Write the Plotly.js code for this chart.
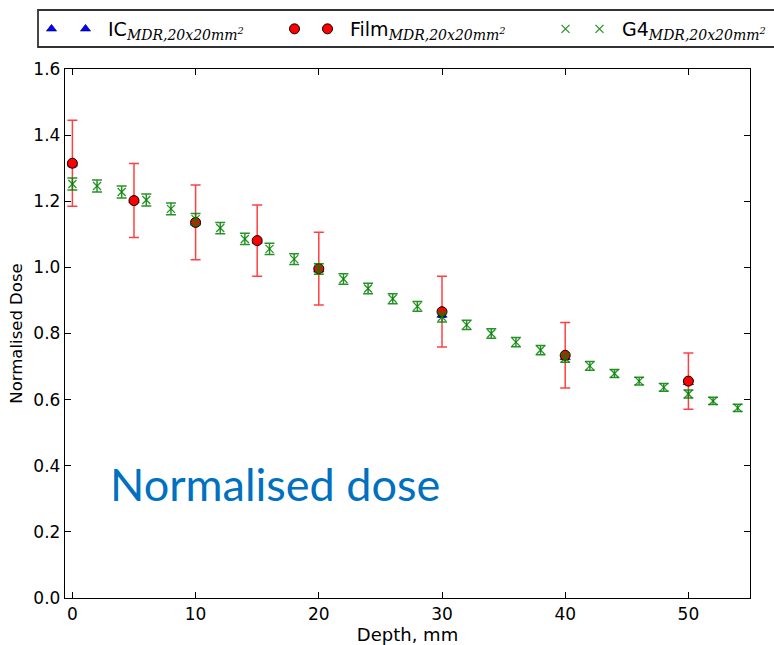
<!DOCTYPE html>
<html>
<head>
<meta charset="utf-8">
<script src="https://cdn.plot.ly/plotly-3.0.1.min.js"></script>
<style>html,body{margin:0;padding:0;background:#fff;}#chart{width:774px;height:645px;}</style>
</head>
<body>
<div id="chart"></div>
<script>
// Measured depths (mm)
const icDepth = [0, 5, 10, 15, 20, 30, 40, 50];
const icDose = [1.313, 1.203, 1.135, 1.080, 0.993, 0.856, 0.728, 0.652];
const icErr = [0.010, 0.009, 0.009, 0.008, 0.008, 0.007, 0.006, 0.005];

const filmDepth = [0, 5, 10, 15, 20, 30, 40, 50];
const filmDose = [1.315, 1.202, 1.136, 1.081, 0.996, 0.866, 0.734, 0.656];
const filmErr = [0.130, 0.112, 0.113, 0.108, 0.110, 0.107, 0.099, 0.085];

const g4Depth = [0, 2, 4, 6, 8, 10, 12, 14, 16, 18, 20, 22, 24, 26, 28, 30, 32, 34, 36, 38, 40, 42, 44, 46, 48, 50, 52, 54];
const g4Dose = [1.252, 1.246, 1.228, 1.204, 1.177, 1.146, 1.119, 1.086, 1.056, 1.025, 0.995, 0.965, 0.936, 0.905, 0.882, 0.850, 0.826, 0.800, 0.774, 0.750, 0.726, 0.702, 0.679, 0.656, 0.637, 0.617, 0.596, 0.575];
const g4Err = [0.018, 0.018, 0.018, 0.018, 0.018, 0.017, 0.017, 0.017, 0.017, 0.016, 0.016, 0.016, 0.016, 0.015, 0.015, 0.015, 0.014, 0.014, 0.014, 0.014, 0.013, 0.013, 0.012, 0.012, 0.012, 0.012, 0.011, 0.011];

const xTicks = [0, 10, 20, 30, 40, 50];
const yTicks = [0.0, 0.2, 0.4, 0.6, 0.8, 1.0, 1.2, 1.4, 1.6];

const sub = '<sub><span style="font-family:DejaVu Serif;font-style:italic;font-size:14px">MDR,20x20mm<sup>2</sup></span></sub>';

const icMarker = {symbol: 'triangle-up', color: '#0000ff', size: 9, line: {color: '#000033', width: 0.5}};
const filmMarker = {symbol: 'circle', color: '#ff0000', size: 10, line: {color: '#000000', width: 1}};
const g4Marker = {symbol: 'x-thin', color: '#008000', size: 8, line: {color: 'rgba(0,128,0,0.85)', width: 1.3}};

const traces = [
  {
    x: icDepth, y: icDose, name: 'IC' + sub, type: 'scatter', mode: 'markers', legend: 'legend2',
    marker: icMarker,
    error_y: {type: 'data', array: icErr, visible: true, color: 'rgba(0,0,255,0.8)', thickness: 1.3, width: 4}
  },
  {
    x: filmDepth, y: filmDose, name: 'Film' + sub, type: 'scatter', mode: 'markers', legend: 'legend4',
    marker: filmMarker,
    error_y: {type: 'data', array: filmErr, visible: true, color: 'rgba(255,0,0,0.75)', thickness: 1.5, width: 5}
  },
  {
    x: g4Depth, y: g4Dose, name: 'G4' + sub, type: 'scatter', mode: 'markers', legend: 'legend6',
    marker: g4Marker,
    error_y: {type: 'data', array: g4Err, visible: true, color: 'rgba(0,128,0,0.85)', thickness: 1.5, width: 5}
  },
  // legend-only companions (matplotlib numpoints=2): a single empty point, nothing drawn
  {x: [null], y: [null], name: ' ', type: 'scatter', mode: 'markers', legend: 'legend', marker: icMarker, hoverinfo: 'skip'},
  {x: [null], y: [null], name: ' ', type: 'scatter', mode: 'markers', legend: 'legend3', marker: filmMarker, hoverinfo: 'skip'},
  {x: [null], y: [null], name: ' ', type: 'scatter', mode: 'markers', legend: 'legend5', marker: g4Marker, hoverinfo: 'skip'}
];

const W = 685, H = 529, L0 = 65, B0 = 598;
const px = p => (p - L0) / W;
const py = p => (B0 - p) / H;
const legY = py(29);
function leg(xp) {
  return {
    x: px(xp), xanchor: 'left', y: legY, yanchor: 'middle', orientation: 'h',
    bgcolor: 'rgba(0,0,0,0)', borderwidth: 0, itemwidth: 35,
    font: {family: 'DejaVu Sans, sans-serif', size: 19, color: '#000'}
  };
}

const layout = {
  width: 774, height: 645,
  margin: {l: 65, r: 24, t: 69, b: 47, autoexpand: false},
  paper_bgcolor: '#ffffff', plot_bgcolor: '#ffffff',
  font: {family: 'DejaVu Sans, sans-serif', color: '#000000', size: 15},
  showlegend: true,
  legend: leg(29),
  legend2: leg(63),
  legend3: leg(272),
  legend4: leg(305),
  legend5: leg(543),
  legend6: leg(577),
  shapes: [{
    type: 'rect', xref: 'paper', yref: 'paper',
    x0: px(38), x1: px(790), y0: py(47), y1: py(10),
    line: {color: '#333333', width: 1.8}, fillcolor: 'rgba(0,0,0,0)', layer: 'below'
  }],
  xaxis: {
    range: [-0.6, 55], tickvals: xTicks, ticktext: xTicks.map(String),
    ticks: 'inside', ticklen: 6, tickcolor: '#000', showline: true, linecolor: '#000', linewidth: 1.2,
    mirror: 'ticks', showgrid: false, zeroline: false,
    tickfont: {size: 17},
    title: {text: 'Depth, mm', font: {size: 18}, standoff: 4}
  },
  yaxis: {
    range: [0, 1.6], tickvals: yTicks, ticktext: yTicks.map(v => v.toFixed(1)),
    ticks: 'inside', ticklen: 6, tickcolor: '#000', showline: true, linecolor: '#000', linewidth: 1.2,
    mirror: 'ticks', showgrid: false, zeroline: false,
    tickfont: {size: 17},
    title: {text: 'Normalised Dose', font: {size: 16.5}, standoff: 6}
  },
  annotations: [{
    text: 'Normalised dose', xref: 'paper', yref: 'paper',
    x: px(108), y: py(484), xanchor: 'left', yanchor: 'middle',
    showarrow: false, font: {family: 'Lato, sans-serif', size: 45, color: '#0070c0'}
  }]
};

Plotly.newPlot('chart', traces, layout, {displayModeBar: false, staticPlot: true});
</script>
</body>
</html>
